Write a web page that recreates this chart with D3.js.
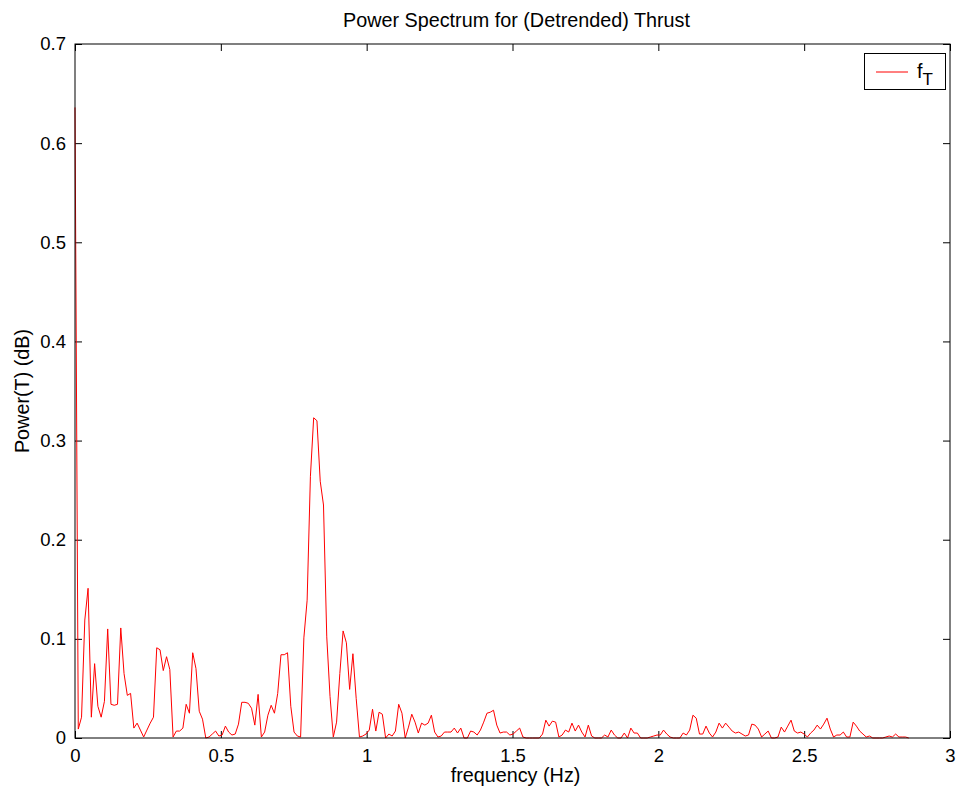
<!DOCTYPE html>
<html><head><meta charset="utf-8">
<script src="https://cdn.jsdelivr.net/npm/d3@7"></script>
<style>
body{margin:0;background:#fff;}
svg{display:block;font-family:"Liberation Sans",Arial,Helvetica,sans-serif;}
</style></head>
<body><svg id="c" width="964" height="794"></svg>
<script>
const title = "Power Spectrum for (Detrended) Thrust";
const xLabel = "frequency (Hz)";
const yLabel = "Power(T) (dB)";
const legendLabel = "f";
const legendSub = "T";
const xTicks = [0, 0.5, 1, 1.5, 2, 2.5, 3];
const xTickLabels = ["0", "0.5", "1", "1.5", "2", "2.5", "3"];
const yTicks = [0, 0.1, 0.2, 0.3, 0.4, 0.5, 0.6, 0.7];
const yTickLabels = ["0", "0.1", "0.2", "0.3", "0.4", "0.5", "0.6", "0.7"];
const freqStep = 0.01121; // Hz between spectrum bins
const power = [
0.636,0.009,0.021,0.119,0.151,0.021,0.075,0.032,0.021,0.037,
0.110,0.034,0.033,0.034,0.111,0.065,0.043,0.045,0.010,0.015,
0.008,0.001,0.008,0.015,0.021,0.091,0.089,0.068,0.082,0.069,
0.001,0.007,0.007,0.010,0.034,0.025,0.086,0.070,0.027,0.019,
0.000,0.001,0.004,0.007,0.002,0.003,0.012,0.006,0.003,0.004,
0.014,0.036,0.036,0.035,0.030,0.013,0.044,0.001,0.006,0.023,
0.033,0.025,0.045,0.084,0.084,0.086,0.032,0.006,0.002,0.001,
0.101,0.139,0.264,0.323,0.320,0.259,0.235,0.102,0.042,0.001,
0.016,0.065,0.108,0.096,0.049,0.085,0.040,0.001,0.002,0.004,
0.008,0.029,0.007,0.026,0.024,0.000,0.004,0.002,0.007,0.034,
0.025,0.000,0.011,0.024,0.016,0.005,0.015,0.013,0.015,0.023,
0.006,0.001,0.002,0.006,0.006,0.006,0.010,0.005,0.010,0.000,
0.000,0.007,0.006,0.003,0.008,0.016,0.025,0.026,0.028,0.013,
0.005,0.006,0.006,0.003,0.004,0.007,0.010,0.001,0.000,0.000,
0.000,0.000,0.000,0.004,0.018,0.012,0.017,0.016,0.001,0.003,
0.008,0.006,0.015,0.007,0.013,0.006,0.001,0.013,0.002,0.000,
0.000,0.000,0.003,0.001,0.008,0.003,0.000,0.000,0.005,0.000,
0.010,0.005,0.005,0.000,0.000,0.000,0.001,0.002,0.003,0.003,
0.008,0.004,0.001,0.000,0.000,0.000,0.005,0.003,0.008,0.023,
0.020,0.004,0.004,0.012,0.005,0.001,0.006,0.015,0.010,0.015,
0.011,0.007,0.005,0.006,0.004,0.002,0.003,0.014,0.013,0.009,
0.001,0.004,0.007,0.000,0.000,0.001,0.011,0.006,0.012,0.018,
0.007,0.005,0.006,0.004,0.001,0.005,0.008,0.013,0.009,0.014,
0.020,0.009,0.001,0.003,0.003,0.006,0.001,0.001,0.016,0.012,
0.007,0.004,0.001,0.002,0.000,0.000,0.000,0.000,0.001,0.002,
0.001,0.004,0.001,0.001,0.001,0.000
];
const data = power.map((v, i) => ({f: i * freqStep, p: v}));

const svg = d3.select("#c");
const L = 75, R = 950, T = 44, B = 738;
const x = d3.scaleLinear().domain([0, 3]).range([L, R]);
const y = d3.scaleLinear().domain([0, 0.7]).range([B, T]);
const tickFs = 18.5;
const labFs = 19.8;
const tickLen = 7;

svg.append("rect").attr("x",0).attr("y",0).attr("width",964).attr("height",794).attr("fill","#fff");

// axes with inward ticks
const gx = svg.append("g").attr("transform",`translate(0,${B})`)
  .call(d3.axisBottom(x).tickValues(xTicks).tickFormat((d,i)=>xTickLabels[i]).tickSizeInner(-tickLen).tickSizeOuter(0).tickPadding(24));
const gxt = svg.append("g").attr("transform",`translate(0,${T})`)
  .call(d3.axisTop(x).tickValues(xTicks).tickFormat("").tickSizeInner(-tickLen).tickSizeOuter(0));
const gy = svg.append("g").attr("transform",`translate(${L},0)`)
  .call(d3.axisLeft(y).tickValues(yTicks).tickFormat((d,i)=>yTickLabels[i]).tickSizeInner(-tickLen).tickSizeOuter(0).tickPadding(9));
const gyr = svg.append("g").attr("transform",`translate(${R},0)`)
  .call(d3.axisRight(y).tickValues(yTicks).tickFormat("").tickSizeInner(-tickLen).tickSizeOuter(0));
[gx,gxt,gy,gyr].forEach(g=>{
  g.selectAll(".domain").remove();
  g.selectAll("line").attr("stroke","#000").attr("stroke-width",1);
  g.selectAll("text").attr("fill","#000").style("font-size",tickFs+"px").style("font-family","Liberation Sans, Arial, sans-serif");
});
gx.selectAll("text").attr("dy","0");

// line
const line = d3.line().x(d=>x(d.f)).y(d=>y(d.p));
svg.append("path").datum(data).attr("d",line).attr("fill","none").attr("stroke","#ff0000").attr("stroke-width",1);

// frame
svg.append("rect").attr("x",L).attr("y",T).attr("width",R-L).attr("height",B-T)
  .attr("fill","none").attr("stroke","#000").attr("stroke-width",1);

// title and labels
svg.append("text").attr("x",(L+R)/2 + 4).attr("y",27).attr("text-anchor","middle").style("font-size",labFs+"px").text(title);
svg.append("text").attr("x",(L+R)/2 + 3).attr("y",782).attr("text-anchor","middle").style("font-size",labFs+"px").text(xLabel);
svg.append("text").attr("transform",`translate(29,${(T+B)/2}) rotate(-90)`).attr("text-anchor","middle").style("font-size",labFs+"px").text(yLabel);

// legend
const lg = svg.append("g");
lg.append("rect").attr("x",864.5).attr("y",53.5).attr("width",81).attr("height",36).attr("fill","#fff").attr("stroke","#000").attr("stroke-width",1);
lg.append("line").attr("x1",876).attr("x2",908).attr("y1",72).attr("y2",72).attr("stroke","#ff0000").attr("stroke-width",1);
const lt = lg.append("text").attr("x",917).attr("y",78).style("font-size",labFs+"px");
lt.append("tspan").text(legendLabel);
lt.append("tspan").attr("dy",7).style("font-size","17px").text(legendSub);
</script></body></html>
